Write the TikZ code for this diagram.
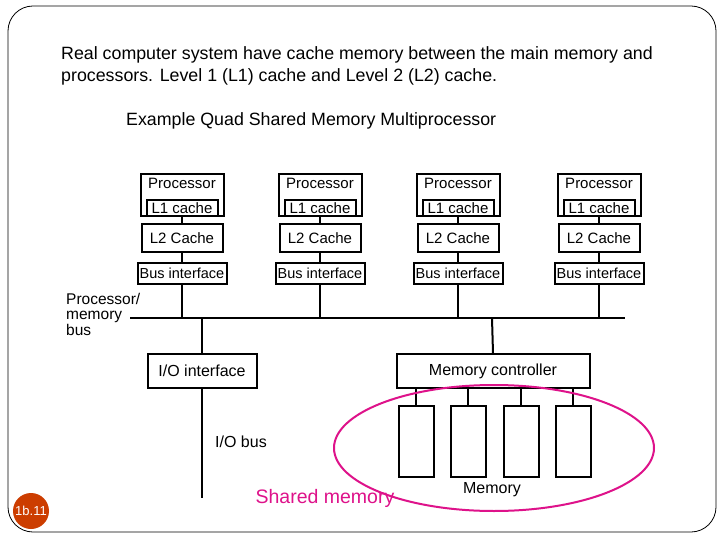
\documentclass[tikz,border=0pt]{standalone}
\usepackage{fontspec}
\setmainfont{Liberation Sans}
\begin{document}
\begin{tikzpicture}[x=1pt,y=-1pt,
  bx/.style={draw,line width=2pt,inner sep=0pt,font=\fontsize{15}{15}\selectfont},
  ln/.style={line width=2pt},
  mod/.style={draw,line width=2pt,minimum width=35pt,minimum height=71pt,inner sep=0pt}]
\useasboundingbox (0,0) rectangle (720,540);
\fill[white] (0,0) rectangle (720,540);
\draw[line width=0.8pt,rounded corners=25pt] (8,6) rectangle (716,532);
\node[anchor=west,align=left,font=\fontsize{17.8}{22}\selectfont,inner sep=0pt] (t1) at (61,66) {Real computer system have cache memory between the main memory and\\processors. Level 1 (L1) cache and Level 2 (L2) cache.};
\node[anchor=west,font=\fontsize{17.8}{17.8}\selectfont,inner sep=0pt] (t2) at (126,121) {Example Quad Shared Memory Multiprocessor};
\coordinate (busL) at (130,318);
\coordinate (busR) at (625,318);
\draw[ln] (busL) -- (busR);
\foreach \i/\x in {1/182,2/320,3/458,4/599}{
  \node[bx,minimum width=83pt,minimum height=42pt] (p\i) at (\x,195) {};
  \node[anchor=north,font=\fontsize{15}{15}\selectfont,inner sep=0pt] (pt\i) at (\x,178) {Processor};
  \node[bx,minimum width=71pt,minimum height=16pt] (l1\i) at (\x,208) {L1 cache};
  \node[bx,minimum width=81pt,minimum height=28pt] (l2\i) at (\x,238) {L2 Cache};
  \node[bx,minimum width=89pt,minimum height=21pt,font=\fontsize{14.5}{14.5}\selectfont] (bi\i) at (\x,273) {Bus interface};
  \draw[ln] (l1\i.south) -- (l2\i.north);
  \draw[ln] (l2\i.south) -- (bi\i.north);
  \coordinate (bp\i) at (\x,318);
  \draw[ln] (bi\i.south) -- (bp\i);
}
\node[anchor=north west,align=left,font=\fontsize{15.5}{15.5}\selectfont,inner sep=0pt] (pml) at (66,293) {Processor/\\memory\\bus};
\node[bx,minimum width=109pt,minimum height=34pt,font=\fontsize{16}{16}\selectfont] (io) at (202,371) {I/O interface};
\coordinate (iob) at (202,318);
\coordinate (ioe) at (202,498);
\draw[ln] (iob) -- (io.north);
\draw[ln] (io.south) -- (ioe);
\node[anchor=west,font=\fontsize{16}{16}\selectfont,inner sep=0pt] (iol) at (215,442) {I/O bus};
\node[bx,minimum width=193pt,minimum height=34pt,font=\fontsize{16}{16}\selectfont] (mc) at (493,371) {Memory controller};
\coordinate (mcb) at (492,318);
\draw[ln] (mcb) -- (mc.north);
\foreach \i/\x in {1/416,2/468,3/521,4/573}{
  \node[mod] (m\i) at (\x,441) {};
  \draw[ln] (\x,388) -- (m\i.north);
}
\node[font=\fontsize{16}{16}\selectfont,inner sep=0pt] (meml) at (492,490) {Memory};
\draw[magenta!85!violet,line width=2pt] (494,448) ellipse [x radius=160, y radius=63];
\node[text=magenta!85!violet,font=\fontsize{19.5}{19.5}\selectfont,inner sep=0pt] (sm) at (325,498) {Shared memory};
\node[circle,fill=orange!60!red!80!black,minimum size=36pt,inner sep=0pt,text=white,font=\fontsize{13}{13}\selectfont] (pg) at (31,511) {1b.11};
\end{tikzpicture}
\end{document}
